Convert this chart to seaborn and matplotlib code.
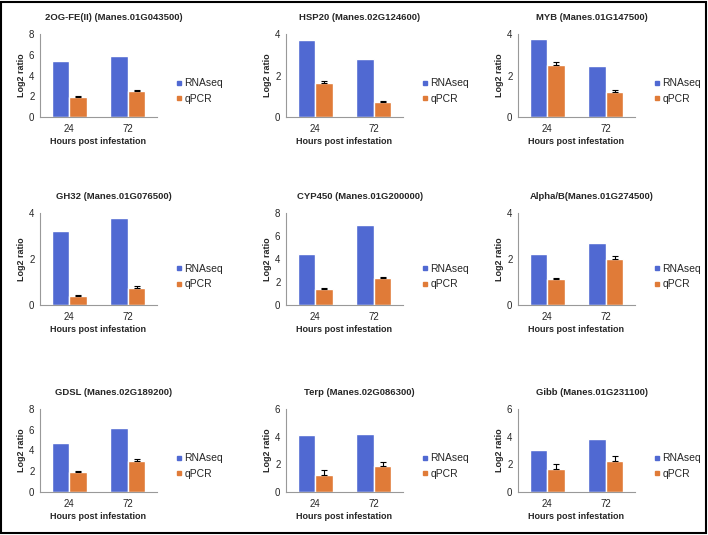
import matplotlib
matplotlib.use("Agg")
import matplotlib.pyplot as plt
from matplotlib.lines import Line2D
from matplotlib.patches import Rectangle
import pandas as pd
import seaborn as sns

# panel titles, read left to right, top to bottom
titles = ["2OG-FE(II) (Manes.01G043500)", "HSP20 (Manes.02G124600)", "MYB (Manes.01G147500)",
          "GH32 (Manes.01G076500)", "CYP450 (Manes.01G200000)", "Alpha/B(Manes.01G274500)",
          "GDSL (Manes.02G189200)", "Terp (Manes.02G086300)", "Gibb (Manes.01G231100)"]
hours = ["24", "72"]
rnaseq = [[5.4, 5.85], [3.7, 2.8], [3.78, 2.45],
          [3.2, 3.8], [4.4, 6.95], [2.2, 2.7],
          [4.7, 6.15], [4.1, 4.2], [3.05, 3.8]]
qpcr = [[1.95, 2.5], [1.65, 0.7], [2.5, 1.2],
        [0.38, 0.75], [1.4, 2.35], [1.12, 2.0],
        [1.9, 3.0], [1.25, 1.9], [1.65, 2.25]]
qpcr_err = [[0.08, 0.15], [0.08, 0.07], [0.15, 0.08],
            [0.05, 0.07], [0.08, 0.12], [0.05, 0.15],
            [0.08, 0.15], [0.35, 0.3], [0.35, 0.35]]
ymax = [8, 4, 4, 4, 8, 4, 8, 6, 6]
yticks = [[0, 2, 4, 6, 8], [0, 2, 4], [0, 2, 4],
          [0, 2, 4], [0, 2, 4, 6, 8], [0, 2, 4],
          [0, 2, 4, 6, 8], [0, 2, 4, 6], [0, 2, 4, 6]]

blue = "#5069d2"
orange = "#e07b38"

sns.set_style("white")
plt.rcParams["font.family"] = ["Liberation Sans", "DejaVu Sans"]

W, H = 708, 535
fig = plt.figure(figsize=(7.08, 5.35), dpi=100)

# pixel layout of the grid (left edge of each column, top/bottom of each row)
col_left = [40, 286, 518]
ax_w = 117
row_top = [34, 213, 409]
row_bot = [117, 305, 492]

for i, title in enumerate(titles):
    r, c = divmod(i, 3)
    left = col_left[c]
    ax = fig.add_axes([left / W, 1 - row_bot[r] / H, ax_w / W, (row_bot[r] - row_top[r]) / H])

    df = pd.DataFrame({
        "hour": hours * 2,
        "value": rnaseq[i] + qpcr[i],
        "method": ["RNAseq"] * 2 + ["qPCR"] * 2,
    })
    sns.barplot(data=df, x="hour", y="value", hue="method", order=hours,
                hue_order=["RNAseq", "qPCR"], palette=[blue, orange],
                width=0.6, errorbar=None, legend=False, ax=ax, saturation=1)

    # one-sided error bars on the qPCR bars
    q_bars = ax.patches[2:4]
    xs = [p.get_x() + p.get_width() / 2 for p in q_bars]
    ys = [p.get_height() for p in q_bars]
    ax.errorbar(xs, ys, yerr=[[0, 0], qpcr_err[i]], fmt="none", ecolor="black",
                elinewidth=0.8, capsize=2, capthick=0.8)

    ax.set_xlim(-0.5, 1.5)
    ax.set_ylim(0, ymax[i])
    ax.set_yticks(yticks[i])
    # title is centred over plot + legend, like the spreadsheet original
    ax.set_title(title, fontsize=6.8, fontweight="bold", pad=10, x=0.63)
    ax.set_ylabel("Log2 ratio", fontsize=6.5, fontweight="bold", labelpad=2)
    ax.set_xlabel("Hours post infestation", fontsize=6.5, fontweight="bold", labelpad=2)
    ax.tick_params(axis="y", length=2, width=0.6, color="#999999", labelsize=7, pad=2)
    ax.tick_params(axis="x", length=0, labelsize=7, pad=5)
    sns.despine(ax=ax)
    for s in ["left", "bottom"]:
        ax.spines[s].set_color("#999999")
        ax.spines[s].set_linewidth(0.8)

    handles = [Line2D([], [], marker="s", linestyle="none", markersize=3.5,
                      markerfacecolor=col, markeredgecolor=col) for col in (blue, orange)]
    ax.legend(handles, ["RNAseq", "qPCR"], loc="center left", bbox_to_anchor=(1.12, 0.31),
              frameon=False, fontsize=7.5, handletextpad=0.1, labelspacing=0.55,
              borderaxespad=0, handlelength=0.8)

fig.patches.append(Rectangle((0.002, 0.003), 0.995, 0.994, transform=fig.transFigure,
                             fill=False, edgecolor="black", linewidth=1.5))

fig.savefig("out.png", dpi=100)
